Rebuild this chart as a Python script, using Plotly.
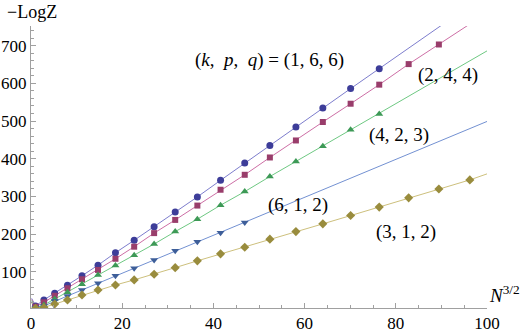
import plotly.graph_objects as go

# N values of each data series (x axis is N^(3/2))
n_166 = list(range(1, 19))
n_244 = list(range(1, 21))
n_423 = list(range(1, 19))
n_612 = list(range(1, 14))
n_312 = list(range(1, 22))

# -LogZ
logz_166 = [10, 26, 43.5, 65, 90, 118, 151, 184, 220, 259, 299, 343, 388.6,
            435, 484, 534.6, 586, 639]
logz_244 = [8, 19.6, 37, 56.8, 80.7, 105.4, 135, 167, 203, 238, 276, 318,
            357.6, 403.5, 448.6, 497.5, 546, 596.5, 651, 703]
logz_423 = [6, 12.5, 28.4, 46, 67.4, 92, 117, 144, 174, 207, 240, 277, 313,
            353, 393, 433, 477, 519]
logz_612 = [5, 10, 23, 36.4, 52.3, 70, 90, 110, 132, 156, 180, 204, 231]
logz_312 = [4, 6, 15, 25.7, 39, 52.3, 65.5, 79, 94, 111.5, 129.5, 148, 165.6,
            187, 207, 227.5, 249.5, 272, 296.5, 320, 344]

# fitted curves: value near x=0 and value at the right edge (x=100)
fit_start = [30, 27, 24, 21, 18]
fit_end = [838, 787, 686, 499, 360]

labels = ["(<i>k</i>,  <i>p</i>,  <i>q</i>) = (1, 6, 6)", "(2, 4, 4)",
          "(4, 2, 3)", "(6, 1, 2)", "(3, 1, 2)"]
label_x = [52.3, 91.4, 80.8, 58.6, 82.3]
label_y = [662, 622, 463, 277, 206]

series = [
    (n_166, logz_166, "circle", 7, "rgb(61,61,153)", "rgb(125,125,205)"),
    (n_244, logz_244, "square", 6, "rgb(153,61,107)", "rgb(205,110,165)"),
    (n_423, logz_423, "triangle-up", 7, "rgb(61,153,86)", "rgb(110,200,130)"),
    (n_612, logz_612, "triangle-down", 7, "rgb(61,94,153)", "rgb(115,145,210)"),
    (n_312, logz_312, "diamond", 7, "rgb(153,140,61)", "rgb(205,192,125)"),
]

FONT = "Liberation Serif, Times New Roman, serif"

fig = go.Figure()

# fit lines first, markers on top
for i, (ns, ys, sym, size, mcol, lcol) in enumerate(series):
    xs = [n ** 1.5 for n in ns]
    fig.add_trace(go.Scatter(
        x=[0.15] + xs + [100], y=[fit_start[i]] + ys + [fit_end[i]],
        mode="lines", line=dict(color=lcol, width=1),
        showlegend=False, hoverinfo="skip",
    ))

for ns, ys, sym, size, mcol, lcol in series:
    xs = [n ** 1.5 for n in ns]
    fig.add_trace(go.Scatter(
        x=xs, y=ys, mode="markers",
        marker=dict(symbol=sym, size=size, color=mcol, line=dict(width=0)),
        showlegend=False,
    ))

for t, x, y in zip(labels, label_x, label_y):
    fig.add_annotation(x=x, y=y, text=t, showarrow=False,
                       font=dict(family=FONT, size=19, color="black"))

fig.add_annotation(xref="paper", yref="paper", x=-0.057, y=1.05,
                   xanchor="left", yanchor="middle", text="\u2212LogZ",
                   showarrow=False, font=dict(family=FONT, size=18, color="black"))
fig.add_annotation(xref="paper", yref="paper", x=1.0, y=0.05,
                   xanchor="left", yanchor="middle",
                   text="<i>N</i><sup>3/2</sup>",
                   showarrow=False, font=dict(family=FONT, size=19, color="black"))

axis_col = "#a0a0a0"
fig.update_layout(
    width=529, height=334,
    margin=dict(l=31, r=42, t=26, b=26),
    plot_bgcolor="white", paper_bgcolor="white",
    font=dict(family=FONT, size=17, color="black"),
    xaxis=dict(
        range=[0, 100], showgrid=False, zeroline=False,
        showline=True, linecolor=axis_col, linewidth=1,
        ticks="inside", ticklen=5, tickcolor=axis_col, dtick=20, tick0=0,
        minor=dict(ticks="inside", ticklen=3, tickcolor=axis_col, dtick=5),
        tickfont=dict(family=FONT, size=17), automargin=False,
    ),
    yaxis=dict(
        range=[4.5, 752], showgrid=False, zeroline=False,
        showline=True, linecolor=axis_col, linewidth=1,
        ticks="inside", ticklen=5, tickcolor=axis_col, dtick=100, tick0=0,
        minor=dict(ticks="inside", ticklen=3, tickcolor=axis_col, dtick=20),
        tickfont=dict(family=FONT, size=17), automargin=False,
    ),
)

# the page has a default body margin; remove it so the figure sits at 0,0
fig.write_html("out.html", config={"displayModeBar": False},
               post_script="document.body.style.margin='0px';")
